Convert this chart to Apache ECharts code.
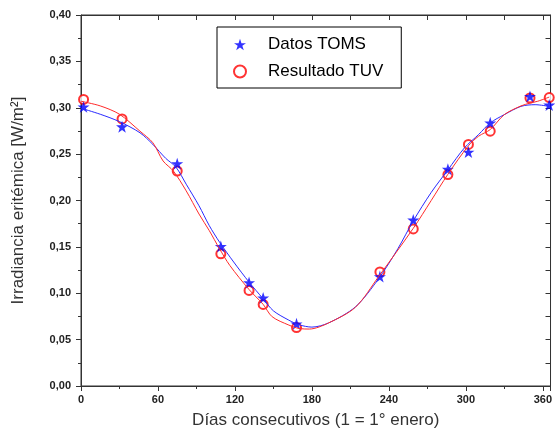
<!DOCTYPE html>
<html>
<head>
<meta charset="utf-8">
<script src="https://cdn.jsdelivr.net/npm/echarts@6/dist/echarts.min.js"></script>
<style>html,body{margin:0;padding:0;background:#fff}#c{width:555px;height:434px}</style>
</head>
<body>
<div id="c"></div>
<script>
// Measured points (day, irradiance W/m2)
const tomsDays   = [2, 32, 75, 109, 131, 142, 168, 233, 259, 286, 302, 319, 350, 365];
const tomsValues = [0.301, 0.2795, 0.2397, 0.1505, 0.1115, 0.095, 0.067, 0.118, 0.179, 0.2337, 0.2522, 0.2837, 0.3122, 0.303];
const tuvDays    = [2, 32, 75, 109, 131, 142, 168, 233, 259, 286, 302, 319, 350, 365];
const tuvValues  = [0.309, 0.288, 0.2318, 0.1425, 0.103, 0.088, 0.063, 0.123, 0.1693, 0.228, 0.2604, 0.2747, 0.3105, 0.311];
// Fitted curves
const tomsCurveDays   = [0, 15, 30, 46, 56, 66, 74, 82, 92, 100, 108, 119, 131, 142, 150, 162, 170, 180, 193, 214, 232, 247, 259, 273, 286, 299, 310, 319, 330, 343, 354, 365];
const tomsCurveValues = [0.2995, 0.293, 0.285, 0.273, 0.2605, 0.2455, 0.236, 0.2176, 0.1943, 0.1729, 0.1551, 0.1337, 0.112, 0.094, 0.081, 0.071, 0.066, 0.0635, 0.068, 0.0854, 0.1157, 0.148, 0.178, 0.2087, 0.233, 0.2569, 0.2712, 0.2837, 0.2926, 0.3015, 0.3033, 0.3015];
const tuvCurveDays    = [0, 15, 30, 46, 56, 64, 72, 82, 92, 100, 108, 116, 131, 142, 149, 162, 170, 178, 193, 214, 232, 259, 273, 286, 302, 310, 319, 330, 343, 350, 356, 365];
const tuvCurveValues  = [0.307, 0.302, 0.293, 0.2747, 0.2623, 0.2426, 0.2318, 0.2104, 0.1854, 0.1675, 0.1479, 0.130, 0.104, 0.088, 0.0747, 0.0657, 0.062, 0.0614, 0.068, 0.085, 0.118, 0.170, 0.200, 0.2283, 0.259, 0.2694, 0.2765, 0.2926, 0.302, 0.305, 0.307, 0.3115];
const xTickLabels = ['0', '60', '120', '180', '240', '300', '360'];

const zip = (a, b) => a.map((v, i) => [v, b[i]]);
const axisCol = '#333';
const starPath = 'path://M50,0 L61.8,35.4 L99,35.4 L69.1,57.3 L80.9,92.7 L50,70.8 L19.1,92.7 L30.9,57.3 L1,35.4 L38.2,35.4 Z';
const chart = echarts.init(document.getElementById('c'));
chart.setOption({
  animation: false,
  backgroundColor: '#fff',
  grid: { left: 81, right: 2, top: 15, bottom: 46, show: true, borderColor: axisCol, borderWidth: 1, backgroundColor: 'transparent' },
  legend: {
    orient: 'vertical', left: 217, top: 27,
    data: ['Datos TOMS', 'Resultado TUV'],
    borderColor: '#000', borderWidth: 1, backgroundColor: '#fff',
    padding: [9, 18, 8, 16],
    itemWidth: 12, itemHeight: 12, itemGap: 10,
    textStyle: { fontFamily: 'Liberation Sans, Arial', fontSize: 17, color: '#000', padding: [0, 0, 0, 17] }
  },
  xAxis: [{
    type: 'value', min: 0, max: 366, interval: 60, position: 'bottom',
    name: 'Días consecutivos (1 = 1° enero)', nameLocation: 'middle', nameGap: 26,
    nameTextStyle: { fontFamily: 'Liberation Sans, Arial', fontSize: 17, color: '#333' },
    axisLine: { show: true, onZero: false, lineStyle: { color: axisCol, width: 1 } },
    axisTick: { show: true, inside: false, length: 5, lineStyle: { color: axisCol } },
    minorTick: { show: true, splitNumber: 2, length: 3, lineStyle: { color: axisCol } },
    axisLabel: { fontFamily: 'Liberation Sans, Arial', fontSize: 11, fontWeight: 'bold', color: '#222', margin: 8,
      formatter: v => (xTickLabels.indexOf(String(v)) >= 0 ? String(v) : '') },
    splitLine: { show: false }
  }, {
    type: 'value', min: 0, max: 366, interval: 30, position: 'top',
    axisLine: { show: true, onZero: false, lineStyle: { color: axisCol, width: 1 } },
    axisTick: { show: true, inside: true, length: 5, lineStyle: { color: axisCol } },
    axisLabel: { show: false }, splitLine: { show: false }
  }],
  yAxis: [{
    type: 'value', min: 0, max: 0.4, interval: 0.05, position: 'left',
    name: 'Irradiancia eritémica [W/m²]', nameLocation: 'middle', nameGap: 54,
    nameTextStyle: { fontFamily: 'Liberation Sans, Arial', fontSize: 17, color: '#333' },
    axisLine: { show: true, onZero: false, lineStyle: { color: axisCol, width: 1 } },
    axisTick: { show: true, inside: false, length: 5, lineStyle: { color: axisCol } },
    minorTick: { show: true, splitNumber: 2, length: 3, lineStyle: { color: axisCol } },
    axisLabel: { fontFamily: 'Liberation Sans, Arial', fontSize: 11, fontWeight: 'bold', color: '#222', margin: 10,
      formatter: v => v.toFixed(2).replace('.', ',') },
    splitLine: { show: false }
  }, {
    type: 'value', min: 0, max: 0.4, interval: 0.025, position: 'right',
    axisLine: { show: true, onZero: false, lineStyle: { color: axisCol, width: 1 } },
    axisTick: { show: true, inside: true, length: 5, lineStyle: { color: axisCol } },
    axisLabel: { show: false }, splitLine: { show: false }
  }],
  series: [
    { name: 'curvaTOMS', type: 'line', xAxisIndex: 1, yAxisIndex: 1, data: zip(tomsCurveDays, tomsCurveValues), smooth: 0.3, showSymbol: false,
      lineStyle: { color: '#2a2aff', width: 1 }, silent: true },
    { name: 'curvaTUV', type: 'line', xAxisIndex: 1, yAxisIndex: 1, data: zip(tuvCurveDays, tuvCurveValues), smooth: 0.3, showSymbol: false,
      lineStyle: { color: '#ff2a2a', width: 1 }, silent: true },
    { name: 'Resultado TUV', type: 'scatter', data: zip(tuvDays, tuvValues), symbol: 'emptyCircle', symbolSize: 9,
      itemStyle: { color: '#ff0000', borderColor: '#ff0000', borderWidth: 1 } },
    { name: 'Datos TOMS', type: 'scatter', data: zip(tomsDays, tomsValues), symbol: starPath, symbolSize: 12,
      itemStyle: { color: '#0000ff' } }
  ]
});
</script>
</body>
</html>
